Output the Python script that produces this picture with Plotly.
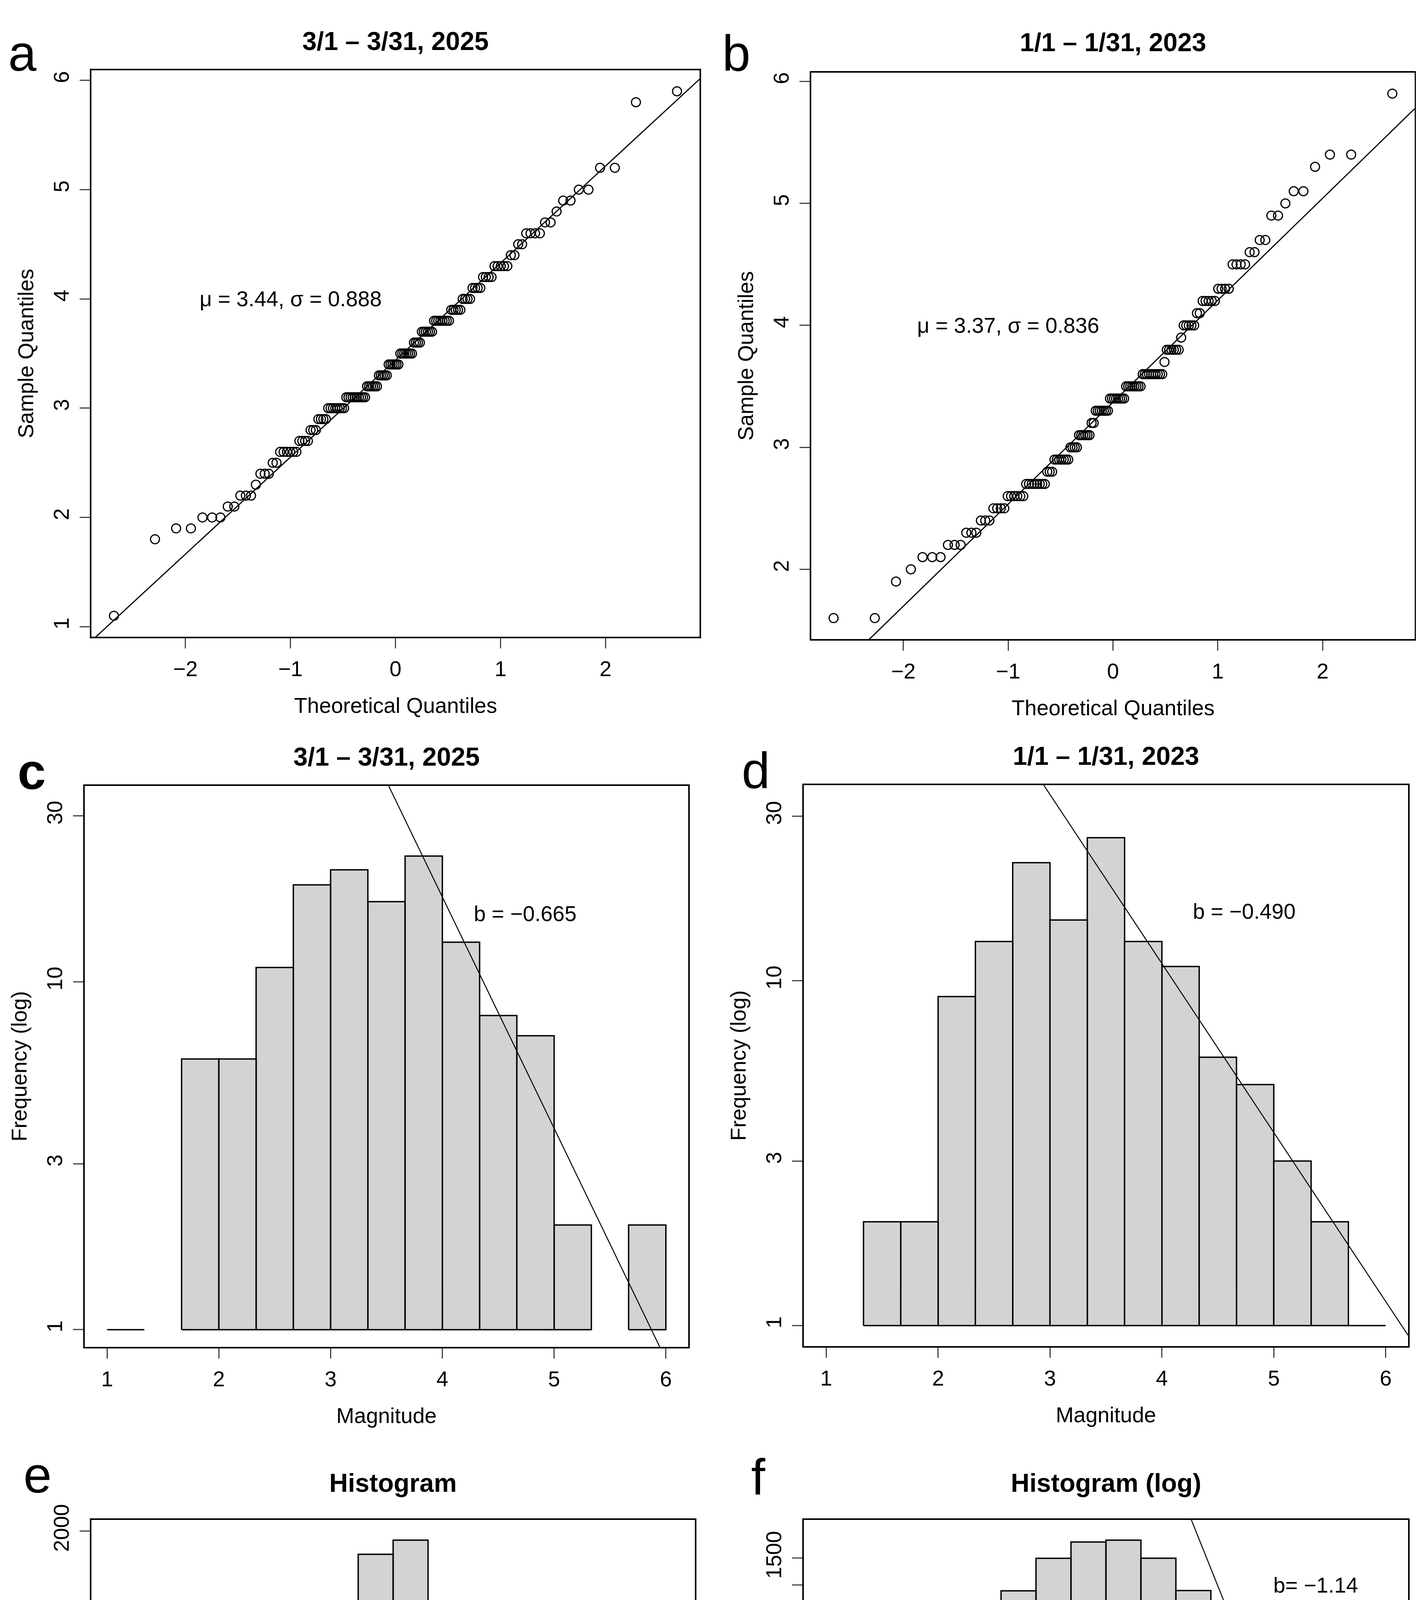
import math
import numpy as np
import plotly.graph_objects as go

W, H = 3633, 5501
FONT = "Liberation Sans, Arial, sans-serif"
GREY = "#d3d3d3"

# magnitudes and how many events sit on each 0.1 step
mag_2025 = [1.1, 1.8, 1.9, 2.0, 2.1, 2.2, 2.3, 2.4, 2.5, 2.6, 2.7, 2.8, 2.9, 3.0,
            3.1, 3.2, 3.3, 3.4, 3.5, 3.6, 3.7, 3.8, 3.9, 4.0, 4.1, 4.2, 4.3, 4.4,
            4.5, 4.6, 4.7, 4.8, 4.9, 5.0, 5.2, 5.8, 5.9]
cnt_2025 = [1, 1, 2, 3, 2, 3, 1, 3, 2, 6, 4, 3, 4, 8,
            10, 6, 5, 6, 7, 4, 6, 8, 5, 4, 4, 4, 5, 2,
            2, 4, 2, 1, 2, 2, 2, 1, 1]
mag_2023 = [1.6, 1.9, 2.0, 2.1, 2.2, 2.3, 2.4, 2.5, 2.6, 2.7, 2.8, 2.9, 3.0, 3.1,
            3.2, 3.3, 3.4, 3.5, 3.6, 3.7, 3.8, 3.9, 4.0, 4.1, 4.2, 4.3, 4.5, 4.6,
            4.7, 4.9, 5.0, 5.1, 5.3, 5.4, 5.9]
cnt_2023 = [2, 1, 1, 3, 3, 3, 3, 4, 6, 8, 3, 7, 4, 6,
            2, 7, 8, 8, 10, 1, 6, 1, 5, 2, 5, 4, 4, 2,
            2, 2, 1, 2, 1, 2, 1]

mu_2025, sd_2025 = 3.44, 0.888
mu_2023, sd_2023 = 3.37, 0.836

# Gutenberg-Richter fits, log10(N) = a + b*M
b_2025, a_2025 = -0.665, 3.904
b_2023, a_2023 = -0.490, 3.010

# standard normal demo histogram (panels e, f)
norm_lo = [-4.0, -3.5, -3.0, -2.5, -2.0, -1.5, -1.0, -0.5, 0.0, 0.5, 1.0, 1.5, 2.0, 2.5, 3.0, 3.5]
norm_cnt = [3, 11, 51, 159, 434, 917, 1495, 1910, 1965, 1497, 921, 431, 173, 50, 14, 2]
b_norm, a_norm = -1.14, 4.818

mag_breaks = [1 + k / 3 for k in range(16)]


def qnorm(p):
    lo, hi = -10.0, 10.0
    for _ in range(80):
        mid = (lo + hi) / 2
        if 0.5 * (1 + math.erf(mid / math.sqrt(2))) < p:
            lo = mid
        else:
            hi = mid
    return (lo + hi) / 2


def qq(values, counts):
    y = np.repeat(values, counts)
    n = len(y)
    a = 3 / 8 if n <= 10 else 0.5
    x = np.array([qnorm((i + 1 - a) / (n + 1 - 2 * a)) for i in range(n)])
    return x, y


def hist_right(values, counts, edges):
    out = []
    for k in range(len(edges) - 1):
        lo, hi = edges[k], edges[k + 1]
        s = 0
        for v, c in zip(values, counts):
            if (v > lo + 1e-9 or (k == 0 and v >= lo - 1e-9)) and v <= hi + 1e-9:
                s += c
        out.append(s)
    return out


def bar_polys(edges, counts, base):
    xs, ys = [], []
    for lo, hi, c in zip(edges[:-1], edges[1:], counts):
        if c <= 0:
            continue
        xs += [lo, lo, hi, hi, lo, None]
        ys += [base, c, c, base, base, None]
    return xs, ys


def pad(lo, hi):
    d = (hi - lo) * 0.04
    return [lo - d, hi + d]


# plot frames in pixels: left, right, top, bottom
frames = {
    1: (226, 1783, 132, 1593),
    2: (2069, 3614, 138, 1599),
    3: (209, 1754, 1978, 3425),
    4: (2050, 3597, 1976, 3423),
    5: (226, 1771, 3871, 5275),
    6: (2050, 3597, 3871, 5275),
}

fig = go.Figure()

hist_line = dict(color="black", width=3.5)

# a, b: Q-Q plots
for k, (vals, cnts, mu, sd) in {1: (mag_2025, cnt_2025, mu_2025, sd_2025),
                                2: (mag_2023, cnt_2023, mu_2023, sd_2023)}.items():
    qx, qy = qq(vals, cnts)
    xr = pad(qx.min(), qx.max())
    fig.add_trace(go.Scatter(x=qx, y=qy, mode="markers", xaxis=f"x{k}", yaxis=f"y{k}",
                             marker=dict(symbol="circle-open", size=23, color="black",
                                         line=dict(width=3, color="black"))))
    fig.add_trace(go.Scatter(x=xr, y=[mu + sd * xr[0], mu + sd * xr[1]], mode="lines",
                             xaxis=f"x{k}", yaxis=f"y{k}", line=dict(color="black", width=3)))

# c, d: magnitude histograms on log scale with the fitted line
for k, (vals, cnts, a, b) in {3: (mag_2025, cnt_2025, a_2025, b_2025),
                              4: (mag_2023, cnt_2023, a_2023, b_2023)}.items():
    hc = hist_right(vals, cnts, mag_breaks)
    bx, by = bar_polys(mag_breaks, hc, 1)
    fig.add_trace(go.Scatter(x=bx, y=by, mode="lines", fill="toself", fillcolor=GREY,
                             line=hist_line, xaxis=f"x{k}", yaxis=f"y{k}"))
    lx = [0.8, 6.2]
    fig.add_trace(go.Scatter(x=lx, y=[10 ** (a + b * v) for v in lx], mode="lines",
                             xaxis=f"x{k}", yaxis=f"y{k}", line=dict(color="black", width=2.5)))

norm_edges = norm_lo + [norm_lo[-1] + 0.5]

# e: plain histogram
bx, by = bar_polys(norm_edges, norm_cnt, 0)
fig.add_trace(go.Scatter(x=bx, y=by, mode="lines", fill="toself", fillcolor=GREY,
                         line=hist_line, xaxis="x5", yaxis="y5"))

# f: log histogram
bx, by = bar_polys(norm_edges, norm_cnt, 1)
fig.add_trace(go.Scatter(x=bx, y=by, mode="lines", fill="toself", fillcolor=GREY,
                         line=hist_line, xaxis="x6", yaxis="y6"))
lx = [-4.32, 4.32]
fig.add_trace(go.Scatter(x=lx, y=[10 ** (a_norm + b_norm * v) for v in lx], mode="lines",
                         xaxis="x6", yaxis="y6", line=dict(color="black", width=2.5)))
# white label box over the bars
fig.add_trace(go.Scatter(x=[-3.08, 1.81, 1.81, 0.63, 0.63, -3.08, -3.08],
                         y=[59.7, 59.7, 91.4, 91.4, 112, 112, 59.7], mode="lines",
                         fill="toself", fillcolor="white", line=dict(width=0, color="white"),
                         xaxis="x6", yaxis="y6"))

qx1, qy1 = qq(mag_2025, cnt_2025)
qx2, qy2 = qq(mag_2023, cnt_2023)
ranges = {
    1: (pad(qx1.min(), qx1.max()), pad(min(mag_2025), max(mag_2025)), "linear"),
    2: (pad(qx2.min(), qx2.max()), pad(min(mag_2023), max(mag_2023)), "linear"),
    3: ([0.8, 6.2], [-0.05, 1.563], "log"),
    4: ([0.8, 6.2], [-0.06, 1.567], "log"),
    5: ([-4.32, 4.32], pad(0, max(norm_cnt)), "linear"),
    6: ([-4.32, 4.32], pad(0, math.log10(max(norm_cnt))), "log"),
}
xticks = {1: [-2, -1, 0, 1, 2], 2: [-2, -1, 0, 1, 2], 3: [1, 2, 3, 4, 5, 6],
          4: [1, 2, 3, 4, 5, 6], 5: [-4, -2, 0, 2, 4], 6: [-4, -2, 0, 2, 4]}
yticks = {1: [1, 2, 3, 4, 5, 6], 2: [2, 3, 4, 5, 6], 3: [1, 3, 10, 30], 4: [1, 3, 10, 30],
          5: [0, 500, 1000, 1500, 2000], 6: [1, 10, 50, 100, 500, 1000, 1500]}
ytext6 = ["1", "10", "50", "", "500", "", "1500"]

axis_common = dict(showline=True, mirror=True, linecolor="black", linewidth=3.5,
                   ticks="outside", ticklen=26, tickwidth=3, tickcolor="#444",
                   showgrid=False, zeroline=False,
                   tickfont=dict(family=FONT, size=55, color="black"))

layout = dict(width=W, height=H, margin=dict(l=0, r=0, t=0, b=0),
              paper_bgcolor="white", plot_bgcolor="white", showlegend=False,
              font=dict(family=FONT, color="black"))

for k, (l, r, t, b) in frames.items():
    xr, yr, ytype = ranges[k]
    sfx = "" if k == 1 else str(k)
    xa = dict(axis_common, domain=[l / W, r / W], range=xr, anchor=f"y{sfx}",
              tickvals=xticks[k], ticklabelstandoff=5)
    ya = dict(axis_common, domain=[1 - b / H, 1 - t / H], range=yr, anchor=f"x{sfx}",
              type=ytype, tickvals=yticks[k], tickangle=-90, ticklabelstandoff=6)
    if k == 6:
        ya["ticktext"] = ytext6
    else:
        ya["ticktext"] = [str(v) for v in yticks[k]]
    layout[f"xaxis{sfx}"] = xa
    layout[f"yaxis{sfx}"] = ya

fig.update_layout(**layout)

titles = ["3/1 \u2013 3/31, 2025", "1/1 \u2013 1/31, 2023", "3/1 \u2013 3/31, 2025",
          "1/1 \u2013 1/31, 2023", "Histogram", "Histogram (log)"]
title_y = [56, 59, 1902, 1900, 3775, 3775]
xtitles = ["Theoretical Quantiles", "Theoretical Quantiles", "Magnitude", "Magnitude", "x", "x"]
ytitles = ["Sample Quantiles", "Sample Quantiles", "Frequency (log)", "Frequency (log)",
           "Frequency", "Frequency (log)"]
letters = ["a", "b", "c", "d", "e", "f"]
letter_pos = [(49, 88), (1877, 88), (73, 1940), (1927, 1937), (88, 3755), (1933, 3760)]

ann = []
for i, k in enumerate(frames):
    l, r, t, b = frames[k]
    cx = (l + r) / 2
    ann.append(dict(x=cx / W, y=1 - title_y[i] / H, xref="paper", yref="paper",
                    text=f"<b>{titles[i]}</b>", showarrow=False, xanchor="center",
                    yanchor="middle", font=dict(size=66, family=FONT, color="black")))
    ann.append(dict(x=cx / W, y=1 - (b + 177) / H, xref="paper", yref="paper",
                    text=xtitles[i], showarrow=False, xanchor="center", yanchor="middle",
                    font=dict(size=55, family=FONT, color="black")))
    ann.append(dict(x=(l - 168) / W, y=1 - (t + b) / 2 / H, xref="paper", yref="paper",
                    text=ytitles[i], showarrow=False, textangle=-90, xanchor="center",
                    yanchor="middle", font=dict(size=55, family=FONT, color="black")))
    lx_, ly_ = letter_pos[i]
    txt = f"<b>{letters[i]}</b>" if letters[i] == "c" else letters[i]
    ann.append(dict(x=lx_ / W, y=1 - ly_ / H, xref="paper", yref="paper", text=txt,
                    showarrow=False, xanchor="center", yanchor="middle",
                    font=dict(size=130, family=FONT, color="black")))

stat_font = dict(size=55, family=FONT, color="black")
ann += [
    dict(x=-1, y=4, xref="x", yref="y", text=f"\u03bc = {mu_2025}, \u03c3 = {sd_2025}",
         showarrow=False, font=stat_font),
    dict(x=-1, y=4, xref="x2", yref="y2", text=f"\u03bc = {mu_2023}, \u03c3 = {sd_2023}",
         showarrow=False, font=stat_font),
    dict(x=4.74, y=math.log10(15.7), xref="x3", yref="y3",
         text=f"b = \u2212{abs(b_2025):.3f}", showarrow=False, font=stat_font),
    dict(x=4.735, y=math.log10(15.9), xref="x4", yref="y4",
         text=f"b = \u2212{abs(b_2023):.3f}", showarrow=False, font=stat_font),
    dict(x=3, y=1500, xref="x5", yref="y5", text="\u03bc = 0, \u03c3 = 1",
         showarrow=False, font=stat_font),
    dict(x=3, y=3, xref="x6", yref="y6", text=f"b= \u2212{abs(b_norm):.2f}",
         showarrow=False, font=stat_font),
    dict(x=-1.23, y=1.938, xref="x6", yref="y6", text="Ignored data range",
         showarrow=False, font=dict(size=73, family=FONT, color="black")),
    dict(x=-4.12, y=1.869, ax=-3.10, ay=1.869, xref="x6", yref="y6", axref="x6",
         ayref="y6", text="", showarrow=True, arrowhead=3, arrowsize=1.5,
         arrowwidth=8, arrowcolor="black"),
    dict(x=1.77, y=1.869, ax=0.63, ay=1.869, xref="x6", yref="y6", axref="x6",
         ayref="y6", text="", showarrow=True, arrowhead=3, arrowsize=1.5,
         arrowwidth=8, arrowcolor="black"),
]
fig.update_layout(annotations=ann)

fig.write_html("out.html")
